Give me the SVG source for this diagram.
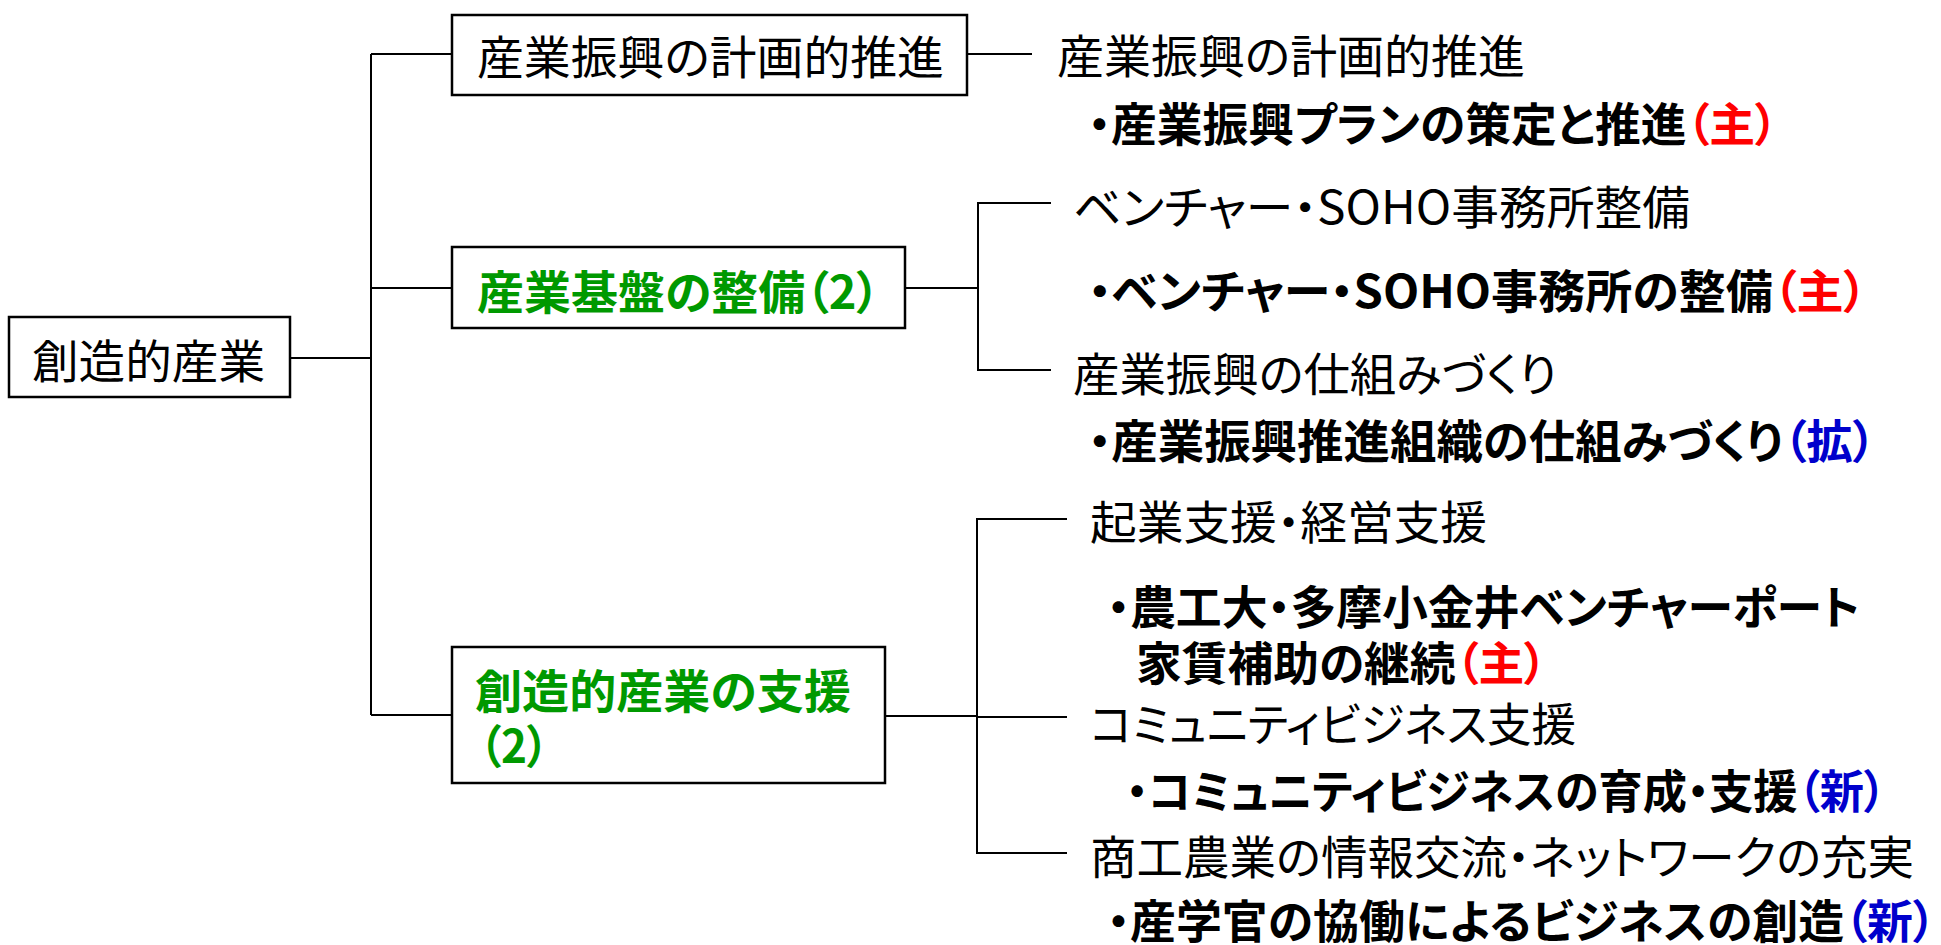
<svg xmlns="http://www.w3.org/2000/svg" width="1941" height="945" viewBox="0 0 1941 945">
<style>
.box{fill:#fff;stroke:#000;stroke-width:2.5}
.ln{fill:none;stroke:#000;stroke-width:2}
text{font-family:"Noto Sans CJK JP","Noto Sans",sans-serif;font-size:46px;fill:#000;font-feature-settings:"palt"}
.b{font-weight:700}
.g{fill:#009900;font-weight:700}
.r{fill:#ff0000}
.bl{fill:#0000cc}
</style>
<rect width="1941" height="945" fill="#fff"/>
<g id="connectors">
<path class="ln" d="M290 358H371M371 54V715M371 54H452M371 288H452M371 715H452"/>
<path class="ln" d="M966 54H1032"/>
<path class="ln" d="M905 288H978M1051 203H978V370H1051"/>
<path class="ln" d="M885 716H977M1067 519H977V853H1067M977 717H1067"/>
</g>
<g id="root">
<rect class="box" x="9" y="317" width="281" height="80"/>
<text x="32" y="378" textLength="233" lengthAdjust="spacingAndGlyphs">創造的産業</text>
</g>
<g id="node-plan">
<rect class="box" x="452" y="15" width="515" height="80"/>
<text x="477" y="74" textLength="467" lengthAdjust="spacingAndGlyphs">産業振興の計画的推進</text>
</g>
<g id="node-base">
<rect class="box" x="452" y="247" width="453" height="81"/>
<text class="g" x="477" y="309" textLength="403" lengthAdjust="spacingAndGlyphs">産業基盤の整備（2）</text>
</g>
<g id="node-support">
<rect class="box" x="452" y="647" width="433" height="136"/>
<text class="g" x="475" y="708" textLength="376" lengthAdjust="spacingAndGlyphs">創造的産業の支援</text>
<text class="g" x="479" y="763" textLength="70" lengthAdjust="spacingAndGlyphs">（2）</text>
</g>
<g id="item-plan">
<text x="1057" y="73" textLength="468" lengthAdjust="spacingAndGlyphs">産業振興の計画的推進</text>
<text class="b" x="1088" y="141" textLength="690" lengthAdjust="spacingAndGlyphs">・産業振興プランの策定と推進<tspan class="r">（主）</tspan></text>
</g>
<g id="item-soho">
<text x="1073" y="224" textLength="617" lengthAdjust="spacingAndGlyphs">ベンチャー・SOHO事務所整備</text>
<text class="b" x="1088" y="308" textLength="779" lengthAdjust="spacingAndGlyphs">・ベンチャー・SOHO事務所の整備<tspan class="r">（主）</tspan></text>
</g>
<g id="item-system">
<text x="1073" y="391" textLength="484" lengthAdjust="spacingAndGlyphs">産業振興の仕組みづくり</text>
<text class="b" x="1088" y="458" textLength="788" lengthAdjust="spacingAndGlyphs">・産業振興推進組織の仕組みづくり<tspan class="bl">（拡）</tspan></text>
</g>
<g id="item-startup">
<text x="1090" y="539" textLength="397" lengthAdjust="spacingAndGlyphs">起業支援・経営支援</text>
<text class="b" x="1107" y="624" textLength="753" lengthAdjust="spacingAndGlyphs">・農工大・多摩小金井ベンチャーポート</text>
<text class="b" x="1136" y="680" textLength="411" lengthAdjust="spacingAndGlyphs">家賃補助の継続<tspan class="r">（主）</tspan></text>
</g>
<g id="item-community">
<text x="1090" y="741" textLength="486" lengthAdjust="spacingAndGlyphs">コミュニティビジネス支援</text>
<text class="b" x="1126" y="808" textLength="760" lengthAdjust="spacingAndGlyphs">・コミュニティビジネスの育成・支援<tspan class="bl">（新）</tspan></text>
</g>
<g id="item-network">
<text x="1090" y="874" textLength="824" lengthAdjust="spacingAndGlyphs">商工農業の情報交流・ネットワークの充実</text>
<text class="b" x="1107" y="938" textLength="829" lengthAdjust="spacingAndGlyphs">・産学官の協働によるビジネスの創造<tspan class="bl">（新）</tspan></text>
</g>
</svg>
